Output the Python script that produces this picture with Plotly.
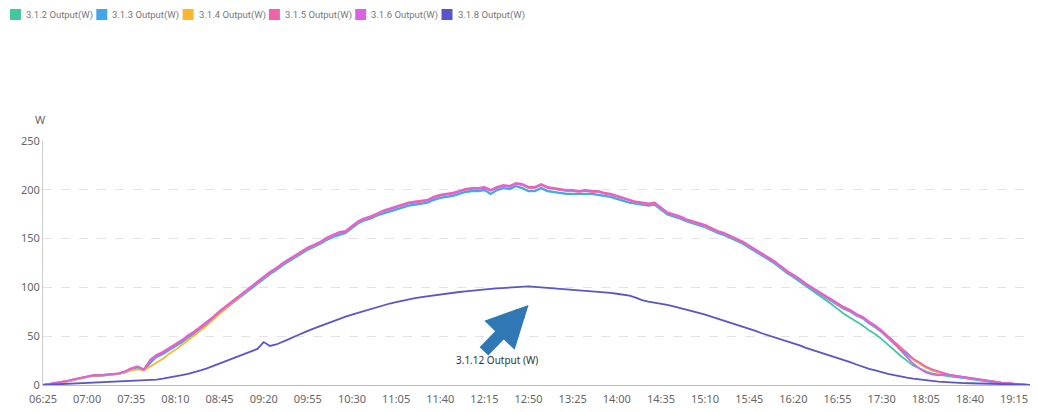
import plotly.graph_objects as go
from datetime import datetime, timedelta

# 5-minute samples, 06:25 .. 19:30
start = datetime(2023, 1, 1, 6, 25)
times = [(start + timedelta(minutes=5 * k)).strftime("%H:%M") for k in range(158)]

tick_labels = ["06:25", "07:00", "07:35", "08:10", "08:45", "09:20", "09:55", "10:30",
               "11:05", "11:40", "12:15", "12:50", "13:25", "14:00", "14:35", "15:10",
               "15:45", "16:20", "16:55", "17:30", "18:05", "18:40", "19:15"]

out_312 = [0, 0.5, 1.5, 2.5, 4, 5.5, 7, 8.5, 9.5, 9.5,
           10, 10.5, 11.5, 13, 16, 18, 15, 22.5, 28.5, 31.5,
           35.5, 39.5, 43.5, 48.5, 52.5, 57.5, 62.5, 67.5, 73.5, 78.5,
           83.5, 88.5, 93.5, 98.5, 103.5, 108.5, 113.5, 117.5, 122.5, 126.5,
           130.5, 134.5, 138.5, 141.5, 144.5, 148.5, 151.5, 153.5, 155.5, 160.5,
           165.5, 168.5, 170.5, 173.5, 175.5, 177.5, 179.5, 181.5, 183.5, 184.5,
           185.5, 186.5, 189.5, 191.5, 192.5, 193.5, 195.5, 197.5, 198.5, 198.5,
           199.5, 195.5, 199.5, 201.5, 200.5, 203.5, 201.5, 198.5, 198.5, 201.5,
           198.5, 197.5, 196.5, 195.5, 195.5, 195.5, 195.5, 195.5, 194.5, 193.5,
           192.5, 190.5, 188.5, 186.5, 185.5, 184.5, 183.5, 184.5, 179.5, 174.5,
           172.5, 170.5, 167.5, 165.5, 163.5, 161.5, 158.5, 155.5, 153.5, 150.5,
           147.5, 144.5, 140.5, 136.5, 132.5, 128.5, 124.5, 119.5, 114.5, 110.5,
           106, 101, 97, 92, 88, 83, 78, 73, 69, 65,
           61, 56, 52, 47, 41, 36, 30, 25, 20, 17,
           14, 12, 10.5, 9.5, 8.5, 8, 7, 6, 5, 4,
           3.5, 2.5, 2, 1.5, 0.8, 0.4, 0.1, 0]

out_313 = [0, 0.5, 1.5, 2.5, 4, 5.5, 7, 8.5, 9.5, 9.5,
           10, 10.5, 11.5, 13, 16, 18, 15.5, 23, 29, 32,
           36, 40, 44, 49, 53, 58, 63, 68, 74, 79,
           84, 89, 94, 99, 104, 109, 114, 118, 123, 127,
           131, 135, 139, 142, 145, 149, 152, 154, 156, 161,
           166, 169, 171, 174, 176, 178, 180, 182, 184, 185,
           186, 187, 190, 192, 193, 194, 196, 198, 199, 199,
           200, 196, 200, 202, 201, 204, 202, 199, 199, 202,
           199, 198, 197, 196, 196, 196, 196, 196, 195, 194,
           193, 191, 189, 187, 186, 185, 184, 185, 180, 175,
           173, 171, 168, 166, 164, 162, 159, 156, 154, 151,
           148, 145, 141, 137, 133, 129, 125, 120, 115, 111,
           107, 102, 98, 94, 90, 86, 82, 78, 75, 71,
           68, 63, 59, 54, 48, 42, 36, 31, 26, 22,
           18, 15, 13, 11, 9.5, 8.5, 7.5, 6.5, 5.5, 4.5,
           3.5, 2.5, 2, 1.5, 0.8, 0.4, 0.1, 0]

out_314 = [0, 0.5, 1.5, 2.5, 4, 5.5, 7, 8.5, 9.5, 9.5,
           10, 10.5, 11.5, 13, 15, 16, 15, 19, 23, 27,
           32, 36, 41, 46, 51, 56, 61, 67, 73, 78,
           84, 89, 95, 100, 105, 110, 115, 119, 124, 128,
           132, 136, 140, 143, 146, 150, 153, 156, 157, 162,
           167, 170, 172, 175, 178, 180, 182, 184, 186, 187,
           188, 189, 192, 194, 195, 196, 198, 200, 201, 201,
           202, 199, 202, 204, 203, 206, 205, 202, 202, 205,
           202, 201, 200, 199, 199, 198, 199, 198, 198, 196,
           195, 193, 191, 189, 187, 186, 185, 186, 181, 176,
           174, 172, 169, 167, 165, 163, 160, 157, 155, 152,
           149, 146, 142, 138, 134, 130, 126, 121, 116, 112,
           108, 103, 99, 95, 91, 87, 83, 79, 76, 72,
           69, 64, 60, 55, 49, 43, 38, 33, 26, 22,
           18, 15, 13, 11.5, 10, 9, 8, 7, 6, 5,
           4, 3, 2.5, 2, 1, 0.5, 0.2, 0]

out_315 = [0, 1, 2, 3, 4.5, 6, 7.5, 9, 10, 10,
           10.5, 11, 12, 14, 17, 19, 16, 26, 31, 34,
           38, 42, 46, 51, 55, 60, 65, 70, 76, 81,
           86, 91, 96, 101, 106, 111, 116, 120, 125, 129,
           133, 137, 141, 144, 147, 151, 154, 157, 158, 163,
           168, 171, 173, 176, 179, 181, 183, 185, 187, 188,
           189, 190, 193, 195, 196, 197, 199, 201, 202, 202,
           203, 200, 203, 205, 204, 207, 206, 203, 203, 206,
           203, 202, 201, 200, 200, 199, 200, 199, 199, 197,
           196, 194, 192, 190, 188, 187, 186, 187, 182, 177,
           175, 173, 170, 168, 166, 164, 161, 158, 156, 153,
           150, 147, 143, 139, 135, 131, 127, 122, 117, 113,
           109, 104, 100, 96, 92, 88, 84, 80, 77, 73,
           70, 65, 61, 56, 50, 44, 38, 33, 27, 23,
           19, 16, 14, 12, 10, 9, 8, 7, 6, 5,
           4, 3, 2.5, 2, 1, 0.5, 0.2, 0]

out_316 = [0, 1, 2, 3, 4.5, 6, 7.5, 9, 10, 10,
           10.5, 11, 12, 14, 17, 19, 15.5, 25, 30, 33,
           37, 41, 45, 50, 54, 59, 64, 69, 75, 80,
           85, 90, 95, 100, 105, 110, 115, 119, 124, 128,
           132, 136, 140, 143, 146, 150, 153, 156, 157, 162,
           167, 170, 172, 175, 178, 180, 182, 184, 186, 187,
           188, 189, 192, 194, 195, 196, 198, 200, 201, 201,
           202, 199, 202, 204, 203, 206, 205, 202, 202, 205,
           202, 201, 200, 199, 199, 198, 199, 198, 198, 196,
           195, 193, 191, 189, 187, 186, 185, 186, 181, 176,
           174, 172, 169, 167, 165, 163, 160, 157, 155, 152,
           149, 146, 142, 138, 134, 130, 126, 121, 116, 112,
           108, 103, 99, 95, 91, 87, 83, 79, 76, 72,
           69, 64, 60, 55, 49, 42, 35, 28, 22, 17,
           13, 11, 10, 11, 10, 9, 8, 7, 6, 5,
           4, 3, 2.5, 2, 1, 0.5, 0.2, 0]

out_318 = [0, 0.3, 0.6, 1, 1.3, 1.6, 2, 2, 2.2, 2.5,
           2.8, 3, 3.2, 3.5, 3.8, 4, 4.5, 5, 5.5, 6.5,
           7.5, 8.5, 10, 11.5, 13, 15, 17, 19.5, 22, 24.5,
           27, 29.5, 32, 34, 37, 44, 40, 41.5, 44, 47,
           50, 53, 55.5, 58, 60.5, 63, 65.3, 67.5, 70, 72,
           74, 76, 78, 80, 82, 83.5, 85, 86.5, 88, 89,
           90, 91, 92, 93, 93.8, 94.5, 95.3, 96, 96.8, 97.4,
           98, 98.5, 99, 99.5, 100, 100.5, 101, 101, 100.5, 100,
           100, 99.5, 99, 98.5, 98, 97.5, 97, 96.5, 96, 95,
           94.5, 93.5, 92.5, 91.5, 89.5, 87, 85.5, 84.5, 83.5, 82,
           80.5, 79, 77.5, 76, 74, 72, 70, 68, 66, 64,
           62, 60, 58, 55.5, 53, 51, 49, 47, 45, 42.5,
           40.5, 38, 36, 34, 32, 29.5, 27.5, 25.5, 23.5, 21,
           18.5, 16.5, 15, 13, 11.5, 10, 8.5, 7.5, 6.5, 5.5,
           4.8, 4.2, 3.5, 3, 2.6, 2.3, 2, 1.8, 1.6, 1.4,
           1.2, 1, 0.8, 0.6, 0.4, 0.3, 0.2, 0.1]

series = [
    ("3.1.2 Output(W)", out_312, "#44c79e"),
    ("3.1.3 Output(W)", out_313, "#43a6ec"),
    ("3.1.4 Output(W)", out_314, "#f9b731"),
    ("3.1.5 Output(W)", out_315, "#f262a6"),
    ("3.1.6 Output(W)", out_316, "#dd62e2"),
    ("3.1.8 Output(W)", out_318, "#5a56c9"),
]

# page body has an 8px margin, so the figure is a bit smaller than the window
W, H = 1030, 404
ml, mr, mt, mb = 35, 5, 133, 27
pw, ph = W - ml - mr, H - mt - mb


def px_x(p):
    return (p - ml) / pw


def px_y(p):
    return 1 + (mt - p) / ph


fig = go.Figure()
for name, vals, col in series:
    fig.add_trace(go.Scatter(x=times, y=vals, mode="lines", name=name,
                             line=dict(color=col, width=1.8)))

# legend row drawn as squares + labels (tight ECharts-like spacing)
step = 86.3
for k, (name, vals, col) in enumerate(series):
    left = 2 + step * k
    fig.add_shape(type="rect", xref="paper", yref="paper",
                  x0=px_x(left), x1=px_x(left + 11), y0=px_y(12), y1=px_y(1),
                  fillcolor=col, line=dict(width=0))
    fig.add_annotation(x=px_x(left + 14), y=px_y(6.5), xref="paper", yref="paper",
                       xanchor="left", yanchor="middle", showarrow=False, text=name,
                       font=dict(family="Roboto, sans-serif", size=9.5, color="#777"))

fig.add_annotation(x="12:50", y=82, ax=-46, ay=48, xref="x", yref="y",
                   showarrow=True, arrowhead=2, arrowsize=0.7, arrowwidth=12,
                   arrowcolor="#2f78b3", standoff=0, text="")
fig.add_annotation(x="12:25", y=26, xref="x", yref="y", showarrow=False,
                   text="3.1.12 Output (W)", font=dict(size=10, color="#333"))
fig.add_annotation(x=0, y=1, xref="paper", yref="paper", showarrow=False,
                   text="W", xanchor="center", yanchor="bottom", yshift=12, xshift=-3,
                   font=dict(size=11, color="#666"))

fig.update_layout(
    width=W, height=H,
    margin=dict(l=ml, r=mr, t=mt, b=mb),
    plot_bgcolor="white", paper_bgcolor="white",
    font=dict(family="Noto Sans, sans-serif", size=11, color="#666"),
    showlegend=False,
    xaxis=dict(type="category", range=[0, 157], tickmode="array", tickvals=tick_labels,
               showgrid=False, showline=True, linecolor="#bbbbbb", ticks="",
               ticklabelstandoff=4, tickfont=dict(size=11, color="#666")),
    yaxis=dict(range=[0, 250], dtick=50, showgrid=True, gridcolor="#e3e3e3", griddash="dash",
               showline=True, linecolor="#cccccc", zeroline=False, ticks="",
               tickfont=dict(size=11, color="#666")),
)

fig.write_html("out.html")
